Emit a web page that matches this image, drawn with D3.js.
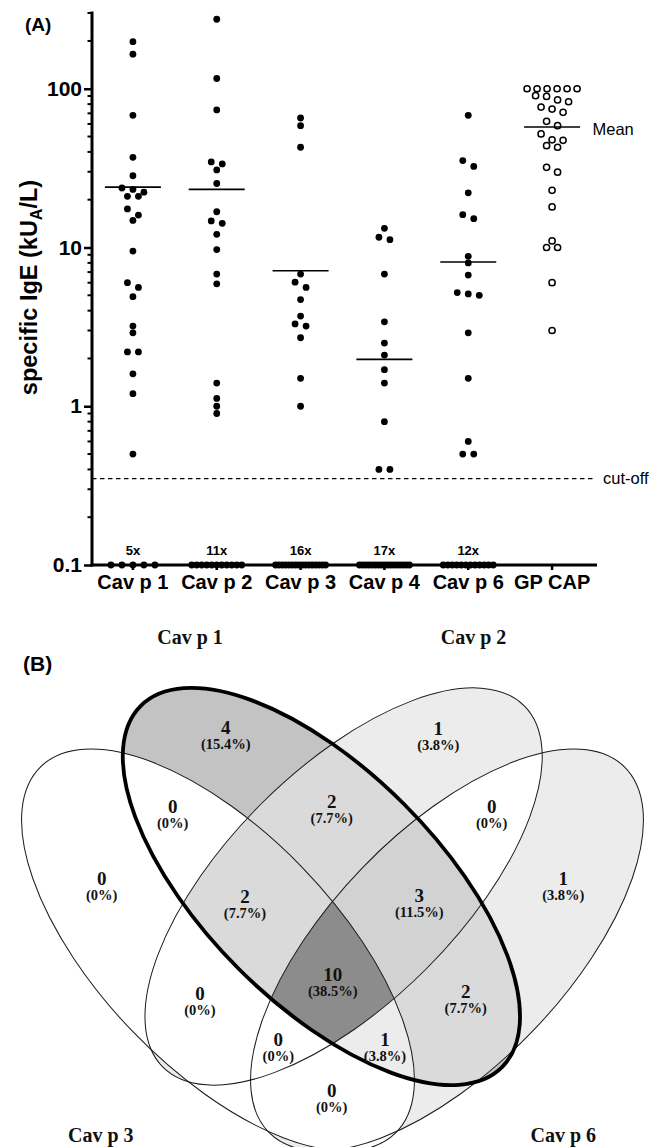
<!DOCTYPE html>
<html>
<head>
<meta charset="utf-8">
<script src="https://cdn.jsdelivr.net/npm/d3@7/dist/d3.min.js"></script>
<style>
html,body{margin:0;padding:0;background:#fff;}
svg{display:block;}
</style>
</head>
<body>
<svg id="chart" width="651" height="1147"></svg>
<script>
// ================= Panel (A) data =================
const categories = ["Cav p 1", "Cav p 2", "Cav p 3", "Cav p 4", "Cav p 6", "GP CAP"];
const cavp1 = [198, 165, 68, 37, 28.3, 23.7, 23.2, 22.3, 21, 21, 17.5, 16, 14.8, 9.5, 6.0, 5.6, 4.9, 3.2, 2.9, 2.2, 2.2, 1.6, 1.2, 0.5];
const cavp2 = [274, 116, 73.5, 34.6, 33.6, 30.8, 25.3, 16.8, 14.7, 14.2, 12.1, 9.7, 6.8, 5.9, 1.4, 1.12, 1.0, 0.9];
const cavp3 = [65.4, 58.5, 42.8, 6.8, 6.05, 5.6, 4.7, 3.7, 3.3, 3.2, 2.7, 1.5, 1.0];
const cavp4 = [13.2, 11.6, 11.2, 6.8, 3.4, 2.5, 2.1, 1.7, 1.4, 0.8, 0.4, 0.4];
const cavp6 = [68, 35.3, 32.4, 22.1, 16.1, 15.2, 8.8, 8.0, 6.7, 5.2, 5.1, 5.0, 2.9, 1.5, 0.6, 0.5, 0.5];
const gpcap = [100, 100, 100, 100, 100, 100, 90.4, 89.4, 85, 82.8, 76.7, 74.5, 71, 62.3, 58.5, 51.9, 47.7, 47.3, 43.8, 42.8, 32, 29.8, 22.9, 18, 11, 10, 10, 6, 3];
const belowDetection = [5, 11, 16, 17, 12, 0];   // sera plotted at 0.1
const floorValue = 0.1;
const yTickValues = [0.1, 1, 10, 100];
const cutoff = 0.35;

// ================= Panel (B) data =================
const vennSetNames = ["Cav p 3", "Cav p 1", "Cav p 2", "Cav p 6"];   // keys A, B, C, D
const vennRegionKeys = ["A", "B", "C", "D", "AB", "BC", "CD", "ABC", "BCD", "ABCD", "AC", "BD", "ACD", "ABD", "AD"];
const vennCounts     = [0,   4,   1,   1,   0,    2,    0,    2,     3,     10,     0,    2,    0,     1,     0];

// ================= layout (not data) =================
const W = 651, H = 1147;
const SANS = "'Liberation Sans', Arial, Helvetica, sans-serif";
const SERIF = "'Liberation Serif', 'Times New Roman', Times, serif";
const seriesValues = [cavp1, cavp2, cavp3, cavp4, cavp6, gpcap];

const svg = d3.select("#chart");
svg.append("rect").attr("width", W).attr("height", H).attr("fill", "#fff");

// ---------------- Panel A ----------------
const plotTop = 13, plotBottom = 565, axisX = 92, axisRight = 597;
const y = d3.scaleLog().domain([0.1, 300]).range([plotBottom, plotTop]);
const x = d3.scaleBand().domain(categories).range([91, 594]);
const xc = c => x(c) + x.bandwidth() / 2;

const gA = svg.append("g");

svg.append("text").attr("x", 25).attr("y", 31)
  .attr("font-family", SANS).attr("font-weight", "bold").attr("font-size", 19).text("(A)");

// cut-off line
gA.append("line").attr("x1", axisX).attr("x2", 594)
  .attr("y1", y(cutoff)).attr("y2", y(cutoff))
  .attr("stroke", "#000").attr("stroke-width", 1.4).attr("stroke-dasharray", "4.5,3.5");
gA.append("text").attr("x", 603).attr("y", y(cutoff) + 5)
  .attr("font-family", SANS).attr("font-size", 16.5).text("cut-off");

// minor ticks
const minorTicks = [];
for (let d = 0.1; d < 300; d *= 10) {
  for (let k = 2; k <= 9; k++) { const v = +(k * d).toPrecision(6); if (v <= 300) minorTicks.push(v); }
}
gA.selectAll("line.minor").data(minorTicks).join("line").attr("class", "minor")
  .attr("x1", axisX - 4.5).attr("x2", axisX).attr("y1", d => y(d)).attr("y2", d => y(d))
  .attr("stroke", "#000").attr("stroke-width", 2);

// y axis
const yAxis = d3.axisLeft(y).tickValues(yTickValues).tickFormat(d3.format("~g"))
  .tickSize(8).tickSizeOuter(0).tickPadding(2);
const gy = gA.append("g").attr("transform", `translate(${axisX},0)`).call(yAxis);
gy.select(".domain").remove();
gy.selectAll(".tick line").attr("stroke", "#000").attr("stroke-width", 2.5);
gy.selectAll(".tick text").attr("font-family", SANS).attr("font-weight", "bold")
  .attr("font-size", 21).attr("fill", "#000");

// x axis
const xAxis = d3.axisBottom(x).tickSize(5).tickSizeOuter(0).tickPadding(5);
const gx = gA.append("g").attr("transform", `translate(0,${plotBottom})`).call(xAxis);
gx.select(".domain").remove();
gx.selectAll(".tick line").attr("stroke", "#000").attr("stroke-width", 2.5);
gx.selectAll(".tick text").attr("font-family", SANS).attr("font-weight", "bold")
  .attr("font-size", 20).attr("fill", "#000");

// axis lines
gA.append("line").attr("x1", axisX).attr("x2", axisX).attr("y1", plotTop - 1.5).attr("y2", plotBottom + 1.5)
  .attr("stroke", "#000").attr("stroke-width", 3);
gA.append("line").attr("x1", axisX - 1.5).attr("x2", axisRight).attr("y1", plotBottom).attr("y2", plotBottom)
  .attr("stroke", "#000").attr("stroke-width", 3);

// y title
const title = svg.append("text").attr("transform", "translate(37,287.5) rotate(-90)")
  .attr("text-anchor", "middle").attr("font-family", SANS).attr("font-weight", "bold").attr("font-size", 23.5);
title.append("tspan").text("specific IgE (kU");
title.append("tspan").attr("font-size", 16).attr("dy", 5).text("A");
title.append("tspan").attr("dy", -5).text("/L)");

// scatter layout: group points into rows and centre each row
function layoutPoints(vals, nFloor, center) {
  const pts = vals.map(v => ({ v, py: y(v) }));
  for (let i = 0; i < nFloor; i++) pts.push({ v: floorValue, py: y(floorValue) });
  pts.sort((a, b) => a.py - b.py);
  const rows = [];
  pts.forEach(p => {
    const r = rows[rows.length - 1];
    if (r && p.py - r[0].py < 6.5) r.push(p); else rows.push([p]);
  });
  rows.forEach(r => {
    const m = r.length;
    const sp = m > 1 ? Math.min(11, 50 / (m - 1)) : 0;
    r.forEach((p, j) => { p.px = center + (j - (m - 1) / 2) * sp; });
  });
  return pts;
}

categories.forEach((c, i) => {
  const vals = seriesValues[i];
  const nF = belowDetection[i];
  const cx0 = xc(c);
  const pts = layoutPoints(vals, nF, cx0);
  const open = c === "GP CAP";
  gA.append("g").selectAll("circle").data(pts).join("circle")
    .attr("cx", d => d.px).attr("cy", d => d.py)
    .attr("r", open ? 3.1 : 3.4)
    .attr("fill", open ? "#fff" : "#000")
    .attr("stroke", open ? "#000" : "none")
    .attr("stroke-width", open ? 1.5 : 0);
  const mean = (d3.sum(vals) + nF * floorValue) / (vals.length + nF);
  gA.append("line").attr("x1", cx0 - 28).attr("x2", cx0 + 28)
    .attr("y1", y(mean)).attr("y2", y(mean)).attr("stroke", "#000").attr("stroke-width", 1.6);
  if (open) {
    gA.append("text").attr("x", 592.5).attr("y", y(mean) + 8.5)
      .attr("font-family", SANS).attr("font-size", 16.5).text("Mean");
  }
  if (nF > 0) {
    gA.append("text").attr("x", cx0).attr("y", 555).attr("text-anchor", "middle")
      .attr("font-family", SANS).attr("font-weight", "bold").attr("font-size", 13).text(nF + "x");
  }
});

// ---------------- Panel B (Venn) ----------------
const ellipseGeom = {
  A: { cx: 218,   cy: 950,   rx: 255,   ry: 118,   rot: 46 },
  B: { cx: 321.4, cy: 886.5, rx: 255.5, ry: 116.7, rot: 45 },
  C: { cx: 343.6, cy: 886.5, rx: 255.5, ry: 116.7, rot: -45 },
  D: { cx: 447,   cy: 950,   rx: 255,   ry: 118,   rot: -46 }
};
const setKeys = ["A", "B", "C", "D"];
const regionLabelPos = {
  A: [101.7, 878.3], B: [225.7, 727.3], C: [438.3, 728.3], D: [563.3, 878.3],
  AB: [172.7, 806.7], BC: [331.7, 801.7], CD: [491.7, 806.7],
  ABC: [245, 896.7], BCD: [419.3, 896], ABCD: [332.7, 975],
  AC: [200, 993.3], BD: [465.7, 991.7], ACD: [278.3, 1039.5], ABD: [385, 1040], AD: [331.7, 1090.7]
};
const setLabelPos = { A: [100.8, 1141.5], B: [190, 644], C: [473.5, 644], D: [563.3, 1142] };

const shade = d3.scaleLinear().domain([0, 1, 2, 3, 4, 10])
  .range(["#ffffff", "#ececec", "#dadada", "#d2d2d2", "#c3c3c3", "#8c8c8c"]);

const defs = svg.append("defs");
const ellAttrs = (sel, e) => sel.attr("cx", e.cx).attr("cy", e.cy).attr("rx", e.rx).attr("ry", e.ry)
  .attr("transform", `rotate(${e.rot} ${e.cx} ${e.cy})`);
setKeys.forEach(k => {
  ellAttrs(defs.append("clipPath").attr("id", "clip" + k).append("ellipse"), ellipseGeom[k]);
});

const gB = svg.append("g");
vennRegionKeys.forEach((rk, i) => {
  const cnt = vennCounts[i];
  if (cnt === 0) return;
  const out = setKeys.filter(k => !rk.includes(k));
  const m = defs.append("mask").attr("id", "mask" + rk).attr("maskUnits", "userSpaceOnUse")
    .attr("x", 0).attr("y", 0).attr("width", W).attr("height", H);
  m.append("rect").attr("width", W).attr("height", H).attr("fill", "#fff");
  out.forEach(k => ellAttrs(m.append("ellipse"), ellipseGeom[k]).attr("fill", "#000"));
  let g = gB;
  rk.split("").forEach(k => { g = g.append("g").attr("clip-path", `url(#clip${k})`); });
  g.append("rect").attr("x", 0).attr("y", 600).attr("width", W).attr("height", H - 600)
    .attr("fill", shade(cnt)).attr("mask", `url(#mask${rk})`);
});

["C", "A", "D"].forEach(k => {
  ellAttrs(gB.append("ellipse"), ellipseGeom[k]).attr("fill", "none").attr("stroke", "#1a1a1a").attr("stroke-width", 1);
});
ellAttrs(gB.append("ellipse"), ellipseGeom.B).attr("fill", "none").attr("stroke", "#000").attr("stroke-width", 3.8);

const total = d3.sum(vennCounts);
vennRegionKeys.forEach((rk, i) => {
  const [lx, ly] = regionLabelPos[rk];
  const cnt = vennCounts[i];
  const pct = cnt === 0 ? "0%" : (cnt / total * 100).toFixed(1) + "%";
  gB.append("text").attr("x", lx).attr("y", ly + 6.4).attr("text-anchor", "middle")
    .attr("font-family", SERIF).attr("font-weight", "bold").attr("font-size", 19).attr("fill", "#111").text(cnt);
  gB.append("text").attr("x", lx).attr("y", ly + 21.4).attr("text-anchor", "middle")
    .attr("font-family", SERIF).attr("font-weight", "bold").attr("font-size", 14.5).attr("fill", "#111").text("(" + pct + ")");
});

setKeys.forEach((k, i) => {
  const [lx, ly] = setLabelPos[k];
  gB.append("text").attr("x", lx).attr("y", ly).attr("text-anchor", "middle")
    .attr("font-family", SERIF).attr("font-weight", "bold").attr("font-size", 20).attr("fill", "#111")
    .text(vennSetNames[i]);
});

svg.append("text").attr("x", 23).attr("y", 671)
  .attr("font-family", SANS).attr("font-weight", "bold").attr("font-size", 21).text("(B)");
</script>
</body>
</html>
